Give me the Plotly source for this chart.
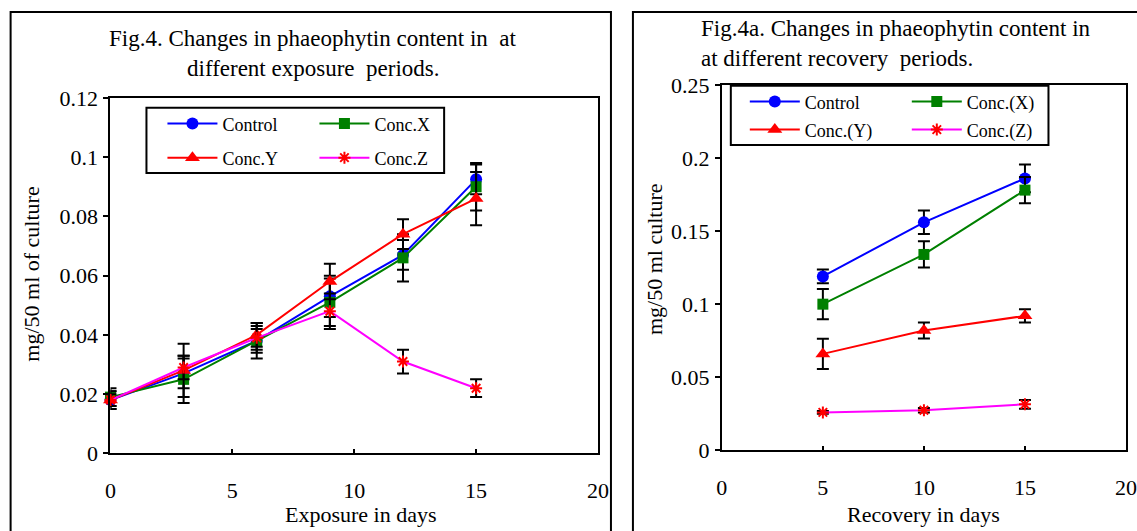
import plotly.graph_objects as go

W, H = 1137, 531
# The photographed page includes the default 8px body margin and is fitted back
# to 1137x531; positions below are given in reference pixels and mapped here.
KX = W / (W + 16)
KY = H / (H + 16)
# small empirical correction measured on earlier renders
CY_A, CY_B = 0.98, 5.7
CX_B = 1.5

# ---------------- data ----------------
exp_days = [0, 3, 6, 9, 12, 15]
exp_control = [0.018, 0.027, 0.038, 0.053, 0.067, 0.0925]
exp_control_err = [0.003, 0.005, 0.004, 0.007, 0.005, 0.005]
exp_x = [0.019, 0.025, 0.038, 0.051, 0.066, 0.090]
exp_x_err = [0.003, 0.008, 0.006, 0.008, 0.008, 0.008]
exp_y = [0.018, 0.028, 0.040, 0.058, 0.074, 0.086]
exp_y_err = [0.003, 0.009, 0.004, 0.006, 0.005, 0.009]
exp_z = [0.018, 0.029, 0.039, 0.048, 0.031, 0.022]
exp_z_err = [0.002, 0.004, 0.004, 0.006, 0.004, 0.003]

rec_days = [5, 10, 15]
rec_control = [0.119, 0.156, 0.186]
rec_control_err = [0.0047, 0.008, 0.0095]
rec_x = [0.100, 0.134, 0.178]
rec_x_err = [0.0103, 0.009, 0.009]
rec_y = [0.066, 0.082, 0.092]
rec_y_err = [0.0103, 0.0055, 0.0045]
rec_z = [0.026, 0.0275, 0.0315]
rec_z_err = [0.001, 0.0015, 0.003]

left_names = ["Control", "Conc.X", "Conc.Y", "Conc.Z"]
right_names = ["Control", "Conc.(X)", "Conc.(Y)", "Conc.(Z)"]

x_ticks = [0, 5, 10, 15, 20]
x_tick_text = ["0", "5", "10", "15", "20"]
left_y_ticks = [0, 0.02, 0.04, 0.06, 0.08, 0.1, 0.12]
left_y_text = ["0", "0.02", "0.04", "0.06", "0.08", "0.1", "0.12"]
right_y_ticks = [0, 0.05, 0.1, 0.15, 0.2, 0.25]
right_y_text = ["0", "0.05", "0.1", "0.15", "0.2", "0.25"]

FONT = "Liberation Serif"
BLUE, GREEN, RED, MAG = "#0000FF", "#008000", "#FF0000", "#FF00FF"


def px(x):
    x = x + CX_B
    return (x / KX - 8) / W


def py(y):
    y = (y - CY_B) / CY_A
    return 1 - max(0.0, y / KY - 8) / H


styles = [
    dict(line=dict(color=BLUE, width=2), marker=dict(symbol="circle", size=12, color=BLUE)),
    dict(line=dict(color=GREEN, width=2), marker=dict(symbol="square", size=11, color=GREEN)),
    dict(line=dict(color=RED, width=2), marker=dict(symbol="triangle-up", size=13, color=RED)),
    dict(line=dict(color=MAG, width=2),
         marker=dict(symbol="asterisk", size=10, color=RED, line=dict(color=RED, width=2))),
]

fig = go.Figure()

left_series = [(exp_control, exp_control_err), (exp_x, exp_x_err), (exp_y, exp_y_err), (exp_z, exp_z_err)]
left_legends = ["legend", "legend", "legend2", "legend2"]
for i, ((vals, errs), name) in enumerate(zip(left_series, left_names)):
    fig.add_trace(go.Scatter(
        x=exp_days, y=vals, name=name, mode="lines+markers", xaxis="x", yaxis="y",
        error_y=dict(type="data", array=errs, visible=True, color="black", thickness=2, width=6),
        cliponaxis=False, legend=left_legends[i], **styles[i]))

right_series = [(rec_control, rec_control_err), (rec_x, rec_x_err), (rec_y, rec_y_err), (rec_z, rec_z_err)]
right_legends = ["legend3", "legend3", "legend4", "legend4"]
for i, ((vals, errs), name) in enumerate(zip(right_series, right_names)):
    fig.add_trace(go.Scatter(
        x=rec_days, y=vals, name=name, mode="lines+markers", xaxis="x2", yaxis="y2",
        error_y=dict(type="data", array=errs, visible=True, color="black", thickness=2, width=6),
        cliponaxis=False, legend=right_legends[i], **styles[i]))

tickfont = dict(family=FONT, size=22, color="black")
common_x = dict(range=[0, 20], tickvals=x_ticks, ticktext=x_tick_text, showgrid=False, zeroline=False,
                showline=True, linecolor="black", linewidth=2, mirror=True,
                ticks="inside", ticklen=4, tickwidth=2, tickcolor="black",
                tickfont=tickfont, ticklabelstandoff=16)
common_y = dict(showgrid=False, zeroline=False, showline=True, linecolor="black", linewidth=2, mirror=True,
                ticks="outside", ticklen=5, tickwidth=2, tickcolor="black", tickfont=tickfont,
                ticklabelstandoff=1)
over_x = dict(range=[0, 20], tickvals=x_ticks, showgrid=False, zeroline=False, showline=False,
              ticks="outside", ticklen=4, tickwidth=2, tickcolor="black", showticklabels=False)

legend_common = dict(orientation="h", bgcolor="rgba(0,0,0,0)", borderwidth=0,
                     font=dict(family=FONT, size=18, color="black"), itemwidth=50,
                     entrywidthmode="pixels", xanchor="left", yanchor="middle",
                     tracegroupgap=0, itemclick=False)

fig.update_layout(
    width=W, height=H, margin=dict(l=0, r=0, t=0, b=0),
    paper_bgcolor="white", plot_bgcolor="white", showlegend=True,
    xaxis=dict(domain=[px(111), px(599)], anchor="y", **common_x),
    yaxis=dict(domain=[py(454), py(99)], anchor="x", range=[0, 0.12],
               tickvals=left_y_ticks, ticktext=left_y_text, **common_y),
    xaxis2=dict(domain=[px(723), min(1.0, px(1129))], anchor="y2", **common_x),
    yaxis2=dict(domain=[py(451), py(86)], anchor="x2", range=[0, 0.25],
                tickvals=right_y_ticks, ticktext=right_y_text, **common_y),
    xaxis3=dict(overlaying="x", anchor="y", **over_x),
    xaxis4=dict(overlaying="x2", anchor="y2", **over_x),
    legend=dict(x=px(163), y=py(125), entrywidth=87, **legend_common),
    legend2=dict(x=px(163), y=py(159), entrywidth=87, **legend_common),
    legend3=dict(x=px(746), y=py(103), entrywidth=97, **legend_common),
    legend4=dict(x=px(746), y=py(131), entrywidth=97, **legend_common),
)

shapes = [
    # outer panel borders
    dict(type="rect", xref="paper", yref="paper", x0=px(11), x1=px(612), y0=-0.05, y1=py(7),
         line=dict(color="black", width=2)),
    dict(type="rect", xref="paper", yref="paper", x0=px(634), x1=1.05, y0=-0.05, y1=py(12),
         line=dict(color="black", width=2)),
    # legend boxes
    dict(type="rect", xref="paper", yref="paper", x0=px(147), x1=px(445), y0=py(174), y1=py(109),
         line=dict(color="black", width=2)),
    dict(type="rect", xref="paper", yref="paper", x0=px(732), x1=px(1050), y0=py(146), y1=py(87),
         line=dict(color="black", width=2)),
]
fig.update_layout(shapes=shapes)

tfont = dict(family=FONT, size=23, color="black")
afont = dict(family=FONT, size=22, color="black")
annots = [
    dict(text="Fig.4. Changes in phaeophytin content in  at", x=px(314), y=py(40), xanchor="center", font=tfont),
    dict(text="different exposure  periods.", x=px(314), y=py(70), xanchor="center", font=tfont),
    dict(text="Fig.4a. Changes in phaeophytin content in", x=px(700), y=py(30), xanchor="left", font=tfont),
    dict(text="at different recovery  periods.", x=px(700), y=py(60), xanchor="left", font=tfont),
    dict(text="Exposure in days", x=px(362), y=py(515), xanchor="center", font=afont),
    dict(text="Recovery in days", x=px(925), y=py(515), xanchor="center", font=afont),
    dict(text="mg/50 ml of culture", x=px(32), y=py(275), xanchor="center", textangle=-90, font=afont),
    dict(text="mg/50 ml culture", x=px(655), y=py(260), xanchor="center", textangle=-90, font=afont),
]
for a in annots:
    fig.add_annotation(xref="paper", yref="paper", yanchor="middle", showarrow=False, **a)

fig.write_html("out.html")
